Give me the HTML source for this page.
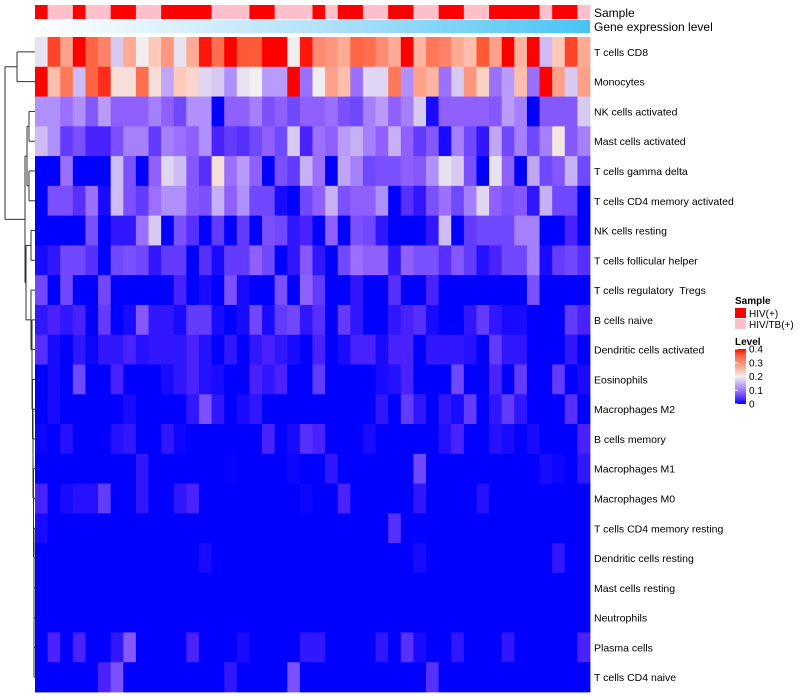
<!DOCTYPE html>
<html><head><meta charset="utf-8">
<style>
body{margin:0;background:#fff;font-family:"Liberation Sans",sans-serif;}
svg{display:block}
text{font-family:"Liberation Sans",sans-serif;}
</style></head>
<body>
<svg id="chart" width="800" height="700" viewBox="0 0 800 700">
<defs>
<linearGradient id="geneGrad" x1="0" x2="1" y1="0" y2="0">
<stop offset="0" stop-color="#ffffff"/><stop offset="0.5" stop-color="#b6e3f9"/><stop offset="1" stop-color="#48c4f5"/>
</linearGradient>
<linearGradient id="levelGrad" x1="0" x2="0" y1="1" y2="0">
<stop offset="0" stop-color="#0000ff"/><stop offset="0.15" stop-color="#7048ff"/><stop offset="0.3" stop-color="#b090fc"/><stop offset="0.45" stop-color="#e0d5f2"/><stop offset="0.5" stop-color="#f2eeee"/><stop offset="0.7" stop-color="#ffa08a"/><stop offset="0.9" stop-color="#ff5a38"/><stop offset="1" stop-color="#ff0000"/>
</linearGradient>
</defs>
<g id="dendro" stroke="#333" stroke-width="1" fill="none"></g>
<g id="sampleRow"></g>
<rect x="35" y="20" width="555" height="13" fill="url(#geneGrad)"/>
<text x="594" y="17" font-size="12" fill="#000">Sample</text>
<text x="594" y="31" font-size="12" fill="#000">Gene expression level</text>
<g id="cells"></g>
<g id="rowLabels"></g>
<g>
<text x="735" y="304" font-size="10" font-weight="bold">Sample</text>
<rect x="735" y="308" width="11" height="10" fill="#ff0000"/>
<text x="749" y="317" font-size="10">HIV(+)</text>
<rect x="735" y="319" width="11" height="10" fill="#ffc0cb"/>
<text x="749" y="328" font-size="10">HIV/TB(+)</text>
<text x="735" y="345" font-size="10" font-weight="bold">Level</text>
<rect x="735" y="349" width="11" height="55" fill="url(#levelGrad)"/>
<g id="levelTicks"></g>
</g>
</svg>
<script>
const rowNames=["T cells CD8","Monocytes","NK cells activated","Mast cells activated","T cells gamma delta","T cells CD4 memory activated","NK cells resting","T cells follicular helper","T cells regulatory  Tregs","B cells naive","Dendritic cells activated","Eosinophils","Macrophages M2","B cells memory","Macrophages M1","Macrophages M0","T cells CD4 memory resting","Dendritic cells resting","Mast cells resting","Neutrophils","Plasma cells","T cells CD4 naive"];
const sampleGroups="RPPRPPRRPPRRRRPPPRRPPPRPRRPPRRPPRRPPRRRRPRRP".split("");
const levelTicks=[0,0.1,0.2,0.3,0.4];
const rowCD8=[.19,.37,.29,.4,.35,.32,.17,.28,.2,.25,.3,.19,.28,.39,.34,.4,.36,.36,.4,.4,.2,.39,.31,.3,.28,.35,.34,.31,.28,.4,.27,.33,.32,.28,.26,.36,.29,.4,.27,.4,.16,.25,.37,.28];
const rowMono=[.4,.26,.33,.16,.35,.38,.22,.22,.34,.22,.14,.25,.23,.18,.17,.12,.19,.2,.13,.13,.4,.1,.2,.29,.26,.1,.18,.18,.33,.12,.29,.27,.1,.17,.3,.24,.1,.13,.26,.1,.4,.29,.17,.29];
const rowNKact=[.12,.12,.1,.12,.08,.13,.09,.09,.09,.11,.09,.06,.12,.12,0,.09,.09,.11,.07,.09,.06,.09,.09,.1,.07,.06,.11,.13,.09,.11,.17,.01,.09,.09,.09,.09,.08,.13,.11,0,.08,.08,.08,.17];
const rowMastAct=[.16,.12,.05,.07,.03,.03,.07,.11,.11,.05,.11,.1,.09,.12,.03,.05,.04,.06,.09,.06,.17,.03,.1,.09,.13,.15,.11,.09,.15,.09,.05,.08,.01,.11,.06,.02,.14,.06,.11,.06,.11,.21,.08,.11];
const rowGD=[0,0,.1,0,0,0,.16,.07,0,.09,.18,.16,.08,.04,.22,.1,.13,.09,0,.07,.05,.15,.1,0,.14,.11,.06,.07,.07,.09,.08,.12,.19,.17,.07,0,.19,.09,0,.14,.06,.08,.15,.06];
const rowCD4MemAct=[0,.07,.07,.04,.1,.01,.16,.07,.05,.1,.12,.12,.08,.07,.15,.09,.12,.06,.06,.01,0,.06,.09,.15,.07,.09,.09,.12,0,.04,.02,.07,.1,.06,.11,.18,.09,.07,.08,.02,.15,.06,.06,0];
const rowNKrest=[0,0,0,0,.07,0,.02,.02,.1,.17,0,.07,.04,0,.05,0,.05,0,.07,.06,.02,.03,0,.09,0,.07,.06,.02,0,0,0,.02,.16,0,.05,.06,.06,.06,.11,.11,0,0,.03,0];
const rowTfh=[.01,.02,.06,.06,.04,0,.06,.07,.06,.02,.05,.05,0,.04,.01,.05,.05,.09,.06,0,.02,.08,.02,0,.06,.1,.09,.09,.02,.09,.07,.07,.04,.08,.05,.015,.03,.06,.06,.11,.01,.05,.06,.04];
const rowTreg=[.06,0,.06,0,0,.06,0,0,0,0,0,.03,0,.01,0,.07,.01,0,0,.07,0,.09,.05,0,0,.02,0,0,.04,0,0,.03,0,0,0,0,0,0,0,.07,0,0,0,0];
const rowBnaive=[.02,.03,.02,.03,0,.05,0,.01,.08,.02,.02,.01,.05,.05,.01,0,.01,.06,.01,.05,.06,.02,.04,0,.05,.02,0,0,.02,.03,.04,.01,0,0,.02,.05,.02,.01,.01,0,0,0,.05,.03];
const rowDCact=[.04,.01,0,.02,.005,.02,.02,.03,.015,.02,.02,.02,.03,.015,0,.02,0,.02,.03,.02,.01,0,.03,0,.01,.03,.03,.01,.03,.03,0,.02,.02,.02,.015,0,.05,.02,.02,0,0,0,.02,0];
const rowEos=[0,.01,0,.06,0,0,.03,0,0,0,.01,.02,.03,.015,.01,0,0,.03,.02,.03,0,0,.05,0,0,0,0,.01,.015,.03,0,0,0,.06,0,0,.03,0,.05,0,0,.05,0,.01];
const rowM2=[0,.01,0,0,0,0,0,.01,0,0,0,0,.02,.07,.02,0,.01,.02,0,0,0,0,0,0,0,0,0,.02,0,.05,.02,0,.02,.01,.05,0,.02,.05,.02,0,0,0,.04,0];
const rowBmem=[.005,0,.015,0,0,0,.015,.02,0,0,.02,.005,0,0,0,0,0,0,.03,0,.01,.04,.03,0,0,0,.01,0,0,0,0,0,.015,.03,0,0,.015,.01,0,.01,0,0,0,.03];
const rowM1=[0,0,0,0,0,0,0,0,.02,0,0,0,0,0,0,.003,0,0,0,0,.005,0,0,.02,0,0,0,0,0,0,.06,0,0,0,0,0,0,0,0,0,.01,.005,0,.02];
const rowM0=[.03,0,.01,.015,.015,.05,0,0,.02,0,0,.02,.03,0,0,0,0,0,0,0,0,.005,0,0,.03,0,0,0,0,0,.02,0,0,0,0,.015,0,0,0,0,0,0,0,0];
const rowCD4MemRest=[.01,0,0,0,0,0,0,0,0,0,0,0,0,0,0,0,0,0,0,0,0,0,0,0,0,0,0,0,.04,0,0,0,0,0,0,0,0,0,0,0,0,0,0,0];
const rowDCrest=[0,0,0,0,0,0,0,0,0,0,0,0,0,.01,0,0,0,0,0,0,0,0,0,0,0,0,0,0,0,0,.01,0,0,0,0,0,0,0,0,0,0,.02,0,0];
const rowMastRest=[0,0,0,0,0,0,0,0,0,0,0,0,0,0,0,0,0,0,0,0,0,0,0,0,0,0,0,0,0,0,0,0,0,0,0,0,0,0,0,0,0,0,0,0];
const rowNeut=[0,0,0,0,0,0,0,0,0,0,0,0,0,0,0,0,0,0,0,0,0,0,0,0,0,0,0,0,0,0,0,0,0,0,0,0,0,0,0,0,0,0,0,0];
const rowPlasma=[0,.03,0,.03,0,0,.02,.08,0,0,0,0,.03,0,0,0,.01,0,0,0,0,.02,.02,0,0,0,0,.02,0,.04,.01,0,0,.02,0,0,0,.02,0,0,0,0,0,.03];
const rowCD4naive=[0,0,0,0,0,.03,.07,0,0,0,0,0,0,0,0,.02,0,0,0,0,.07,0,0,0,0,0,0,0,0,0,0,.04,0,0,0,0,0,0,0,0,0,0,0,0];
const matrix=[rowCD8,rowMono,rowNKact,rowMastAct,rowGD,rowCD4MemAct,rowNKrest,rowTfh,rowTreg,rowBnaive,rowDCact,rowEos,rowM2,rowBmem,rowM1,rowM0,rowCD4MemRest,rowDCrest,rowMastRest,rowNeut,rowPlasma,rowCD4naive];

const NS="http://www.w3.org/2000/svg";
const X0=35,X1=590,Y0=37,Y1=692;
const nCols=sampleGroups.length, nRows=rowNames.length;
const cw=(X1-X0)/nCols, rh=(Y1-Y0)/nRows;
function xPos(j){return X0+j*cw;}
function yPos(i){return Y0+i*rh;}
const stops=[[0,[0,0,255]],[0.03,[74,34,255]],[0.06,[112,72,255]],[0.09,[144,96,255]],[0.12,[176,144,252]],[0.15,[200,176,245]],[0.18,[224,213,242]],[0.2,[240,238,238]],[0.25,[255,200,184]],[0.29,[255,160,138]],[0.33,[255,120,90]],[0.36,[255,90,56]],[0.4,[255,0,0]]];
function colorOf(v){
  v=Math.max(0,Math.min(0.4,v));
  for(let k=1;k<stops.length;k++){
    if(v<=stops[k][0]){const a=stops[k-1],b=stops[k];const t=(v-a[0])/(b[0]-a[0]);
      const c=a[1].map((x,m)=>Math.round(x+(b[1][m]-x)*t));return `rgb(${c[0]},${c[1]},${c[2]})`;}
  }
  return "rgb(255,0,0)";
}
function mk(tag,attrs,parent){const e=document.createElementNS(NS,tag);for(const k in attrs)e.setAttribute(k,attrs[k]);parent.appendChild(e);return e;}

const sg=document.getElementById('sampleRow');
sampleGroups.forEach((g,j)=>{
  const r=mk('rect',{x:xPos(j),y:5,width:cw+0.4,height:14,fill:g==='R'?'#ff0000':'#ffc0cb'},sg);
  
  
});
const cg=document.getElementById('cells');
matrix.forEach((row,i)=>{row.forEach((v,j)=>{
  const r=mk('rect',{x:xPos(j),y:yPos(i),width:cw+0.4,height:rh+0.4,fill:colorOf(v)},cg);
  
  
});});
const lg=document.getElementById('rowLabels');
rowNames.forEach((n,i)=>{
  const t=mk('text',{x:594,y:yPos(i)+rh/2+4,'font-size':10.5,fill:'#000','xml:space':'preserve'},lg);
  t.style.whiteSpace='pre';
  t.textContent=n;
  
  
});
const tg=document.getElementById('levelTicks');
levelTicks.forEach(v=>{
  const y=404-(v/0.4)*55;
  const t=mk('text',{x:749,y:y+3.5,'font-size':10},tg);
  t.textContent=String(v);
  
  
  const l=mk('line',{x1:735,x2:738,y1:y,y2:y,stroke:'#fff'},tg);
  
  
});
// dendrogram
const dg=document.getElementById('dendro');
function cy(i){return yPos(i)+rh/2;}
function seg(x1,y1,x2,y2){const l=mk('line',{x1,y1,x2,y2},dg);}
function merge(a,b,x){seg(a.x,a.y,x,a.y);seg(b.x,b.y,x,b.y);seg(x,a.y,x,b.y);return {x,y:(a.y+b.y)/2};}
const leaf=i=>({x:35,y:cy(i)});
const A=merge(leaf(0),leaf(1),17);
const B=merge(leaf(2),leaf(3),29);
const C=merge(leaf(4),leaf(5),29);
const BC=merge(B,C,27);
let cur=leaf(21);
const combX=[0,0,0,0,0,0,30,31,31,32,32,32.5,33,33,33.5,33.5,34,34,34,34,34];
for(let i=20;i>=8;i--){cur=merge(leaf(i),cur,combX[i]);}
const D67=merge(leaf(6),leaf(7),31);
const E=merge(D67,cur,26);
const R=merge(BC,E,25);
merge(A,R,5);
</script>
</body></html>
